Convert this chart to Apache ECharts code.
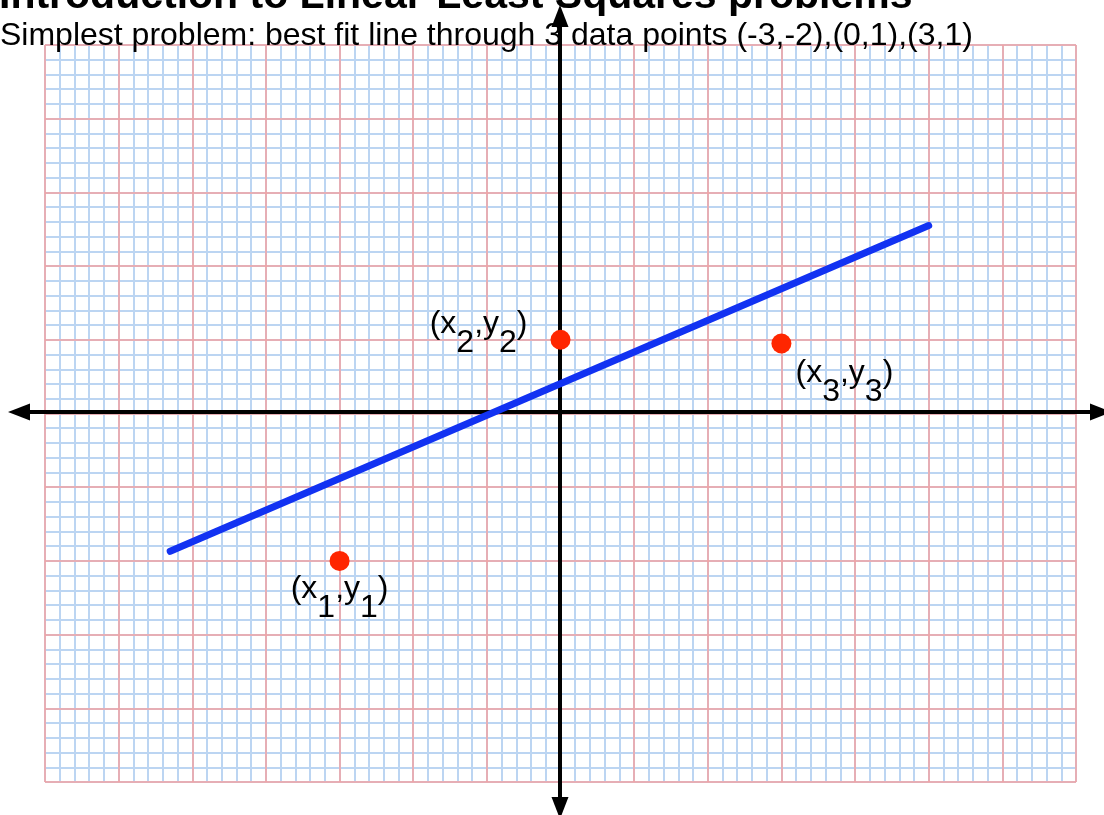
<!DOCTYPE html>
<html>
<head>
<meta charset="utf-8">
<title>Linear least squares</title>
<script src="https://cdn.jsdelivr.net/npm/echarts@6/dist/echarts.min.js"></script>
<style>
html, body { margin: 0; padding: 0; background: #fff; }
#chart { width: 1104px; height: 815px; }
</style>
</head>
<body>
<div id="chart"></div>
<script>
var TITLE = "Introduction to Linear-Least Squares problems";
var SUBTITLE = "Simplest problem: best fit line through 3 data points (-3,-2),(0,1),(3,1)";

// the three data points (as drawn)
var point_x = [-3, 0, 3];
var point_y = [-2, 1, 0.95];
var point_sub = ["1", "2", "3"];

// hand drawn fit line, its two end points
var fit_x = [-5.3, 5.0];
var fit_y = [-1.87, 2.55];

// graph paper range and the (longer) arrow axes range
var paper_x = [-7, 7];
var paper_y = [-5, 5];
var arrow_x = [-7.35, 7.35];
var arrow_y = [-5.37, 5.37];

var FONT = "Liberation Sans, Arial, Helvetica, sans-serif";
var RED_LINE = "#f4a0a0";
var BLUE_LINE = "#bcd5f2";

// light blue paper: one line every 1/5 unit
function blue_axis(range)
{
    return {
        type: "value",
        gridIndex: 0,
        min: range[0],
        max: range[1],
        interval: 1,
        z: 0,
        axisLine: { show: false },
        axisTick: { show: false },
        axisLabel: { show: false },
        splitLine: { show: true, lineStyle: { color: BLUE_LINE, width: 2 } },
        minorTick: { show: false, splitNumber: 5 },
        minorSplitLine: { show: true, lineStyle: { color: BLUE_LINE, width: 2 } }
    };
}

// red paper lines on every unit, drawn over the blue ones
function red_axis(range)
{
    return {
        type: "value",
        gridIndex: 0,
        min: range[0],
        max: range[1],
        interval: 1,
        z: 1,
        axisLine: { show: false },
        axisTick: { show: false },
        axisLabel: { show: false },
        splitLine: { show: true, lineStyle: { color: RED_LINE, width: 1.5 } }
    };
}

function arrow_axis(range)
{
    return {
        type: "value",
        gridIndex: 1,
        min: range[0],
        max: range[1],
        z: 2,
        axisLine: {
            show: true,
            onZero: true,
            symbol: ["triangle", "triangle"],
            symbolSize: [17, 22],
            lineStyle: { color: "#000", width: 4 }
        },
        axisTick: { show: false },
        axisLabel: { show: false },
        splitLine: { show: false }
    };
}

var label_place = [
    { position: "bottom", distance: 11, offset: [0, 0] },
    { position: "left", distance: 23, offset: [0, -6] },
    { position: "bottom", distance: 12, offset: [63, 0] }
];

var points = [];
for (var i = 0; i < point_x.length; i++) {
    var s = point_sub[i];
    points.push({
        value: [point_x[i], point_y[i]],
        label: {
            show: true,
            position: label_place[i].position,
            distance: label_place[i].distance,
            offset: label_place[i].offset,
            formatter: "{b|(x}{s|" + s + "}{b|,y}{s|" + s + "}{b|)}"
        }
    });
}

var fit = [];
for (var j = 0; j < fit_x.length; j++) {
    fit.push([fit_x[j], fit_y[j]]);
}

var chart = echarts.init(document.getElementById("chart"));
var option = {
    animation: false,
    backgroundColor: "#fff",
    title: [
        {
            text: TITLE,
            left: -1,
            top: -24,
            padding: 0,
            textStyle: { fontFamily: FONT, fontSize: 41, fontWeight: "bold", color: "#000" }
        },
        {
            text: SUBTITLE,
            left: 0,
            top: 20,
            padding: 0,
            textStyle: { fontFamily: FONT, fontSize: 32, fontWeight: "normal", color: "#000" }
        }
    ],
    grid: [
        { left: 45, right: 28, top: 45, bottom: 33, containLabel: false },
        { left: 19, right: 3, top: 16, bottom: 7, containLabel: false }
    ],
    xAxis: [blue_axis(paper_x), red_axis(paper_x), arrow_axis(arrow_x)],
    yAxis: [blue_axis(paper_y), red_axis(paper_y), arrow_axis(arrow_y)],
    series: [
        {
            type: "line",
            xAxisIndex: 0,
            yAxisIndex: 0,
            data: fit,
            symbol: "none",
            z: 3,
            lineStyle: { color: "#1232f2", width: 7, cap: "round" }
        },
        {
            type: "scatter",
            xAxisIndex: 0,
            yAxisIndex: 0,
            data: points,
            symbolSize: 20,
            z: 4,
            itemStyle: { color: "#ff2600", opacity: 1 },
            label: {
                color: "#000",
                textBorderWidth: 0,
                rich: {
                    b: { fontFamily: FONT, fontSize: 32, lineHeight: 34, color: "#000", padding: [0, 0, 19, 0] },
                    s: { fontFamily: FONT, fontSize: 32, lineHeight: 34, color: "#000", padding: [19, 0, 0, 0] }
                }
            }
        }
    ]
};
chart.setOption(option);
</script>
</body>
</html>
